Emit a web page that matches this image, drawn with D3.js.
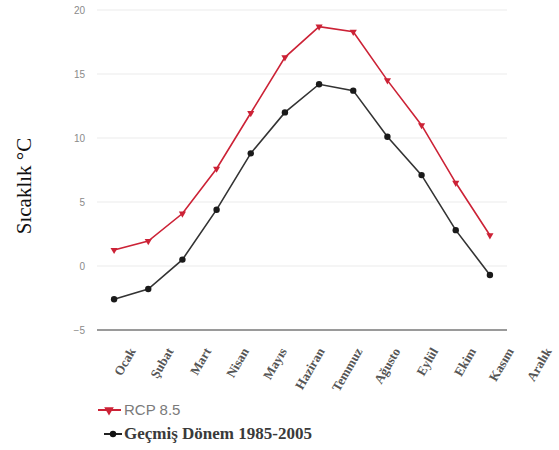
<!DOCTYPE html>
<html>
<head>
<meta charset="utf-8">
<script src="https://cdn.jsdelivr.net/npm/d3@7"></script>
<style>
  html, body { margin: 0; padding: 0; background: #fff; }
  svg { display: block; }
</style>
</head>
<body>
<svg id="chart" width="559" height="450"></svg>
<script>
// Monthly mean temperature (°C)
const months = ["Ocak", "Şubat", "Mart", "Nisan", "Mayıs", "Haziran", "Temmuz", "Ağusto", "Eylül", "Ekim", "Kasım", "Aralık"];
const rcp85 = [1.25, 1.95, 4.1, 7.6, 11.95, 16.3, 18.7, 18.3, 14.5, 11.0, 6.5, 2.4];
const past = [-2.6, -1.8, 0.5, 4.4, 8.8, 12.0, 14.2, 13.7, 10.1, 7.1, 2.8, -0.7];
const yTicks = [-5, 0, 5, 10, 15, 20];
const seriesNames = ["RCP 8.5", "Geçmiş Dönem 1985-2005"];

const svg = d3.select("#chart");

const x = d3.scalePoint().domain(months.slice(0, rcp85.length)).range([97, 507]).padding(0.5);
const xLabel = d3.scalePoint().domain(months).range([136, 552]);
const y = d3.scaleLinear().domain([-5, 20]).range([330, 10]);

// horizontal grid
svg.append("g")
  .selectAll("line")
  .data(yTicks.filter(t => t > -5))
  .join("line")
  .attr("x1", 97).attr("x2", 507)
  .attr("y1", d => y(d)).attr("y2", d => y(d))
  .attr("stroke", "#ebebeb").attr("stroke-width", 1.2);

// baseline
svg.append("line")
  .attr("x1", 97).attr("x2", 507)
  .attr("y1", y(-5)).attr("y2", y(-5))
  .attr("stroke", "#9a9a9a").attr("stroke-width", 2);

// y axis tick labels
const yAxis = d3.axisLeft(y).tickValues(yTicks).tickSize(0).tickPadding(0);
const gy = svg.append("g").attr("transform", "translate(85,0)").call(yAxis);
gy.select(".domain").remove();
gy.selectAll("text")
  .attr("fill", "#8a8a8a")
  .attr("font-family", "Arial, 'Liberation Sans', sans-serif")
  .attr("font-size", 10);

// x labels
svg.append("g")
  .selectAll("text")
  .data(months)
  .join("text")
  .attr("transform", d => `translate(${xLabel(d)},351) rotate(-60)`)
  .attr("text-anchor", "end")
  .attr("font-family", "'Liberation Serif', 'Times New Roman', serif")
  .attr("font-size", 13)
  .attr("font-weight", "bold")
  .attr("fill", "#555")
  .text(d => d);

// y axis title
svg.append("text")
  .attr("transform", "translate(31,186) rotate(-90)")
  .attr("text-anchor", "middle")
  .attr("font-family", "'Liberation Serif', 'Times New Roman', serif")
  .attr("font-size", 21)
  .attr("fill", "#111")
  .text("Sıcaklık °C");

const line = d3.line().x((d, i) => x(months[i])).y(d => y(d));

const red = "#cc2236";
const dark = "#333333";

// past period series
svg.append("path").datum(past)
  .attr("d", line).attr("fill", "none")
  .attr("stroke", dark).attr("stroke-width", 1.6);
svg.append("g").selectAll("circle").data(past).join("circle")
  .attr("cx", (d, i) => x(months[i])).attr("cy", d => y(d))
  .attr("r", 3.2).attr("fill", "#1a1a1a");

// RCP 8.5 series
svg.append("path").datum(rcp85)
  .attr("d", line).attr("fill", "none")
  .attr("stroke", red).attr("stroke-width", 1.6);
const tri = d3.symbol().type(d3.symbolTriangle).size(22);
svg.append("g").selectAll("path").data(rcp85).join("path")
  .attr("d", tri)
  .attr("transform", (d, i) => `translate(${x(months[i])},${y(d)}) rotate(180)`)
  .attr("fill", red);

// legend
const lg = svg.append("g");
lg.append("line").attr("x1", 98).attr("x2", 121).attr("y1", 410).attr("y2", 410)
  .attr("stroke", red).attr("stroke-width", 2);
lg.append("path").attr("d", d3.symbol().type(d3.symbolTriangle).size(40))
  .attr("transform", "translate(109,410) rotate(180)").attr("fill", red);
lg.append("text").attr("x", 124).attr("y", 415)
  .attr("font-family", "Arial, 'Liberation Sans', sans-serif")
  .attr("font-size", 15).attr("fill", "#7a7a7a")
  .text(seriesNames[0]);

lg.append("line").attr("x1", 104).attr("x2", 122).attr("y1", 434).attr("y2", 434)
  .attr("stroke", "#222").attr("stroke-width", 2);
lg.append("circle").attr("cx", 113).attr("cy", 434).attr("r", 3.2).attr("fill", "#111");
lg.append("text").attr("x", 124).attr("y", 439)
  .attr("font-family", "'Liberation Serif', 'Times New Roman', serif")
  .attr("font-size", 17).attr("font-weight", "bold").attr("fill", "#3a3a3a")
  .text(seriesNames[1]);
</script>
</body>
</html>
